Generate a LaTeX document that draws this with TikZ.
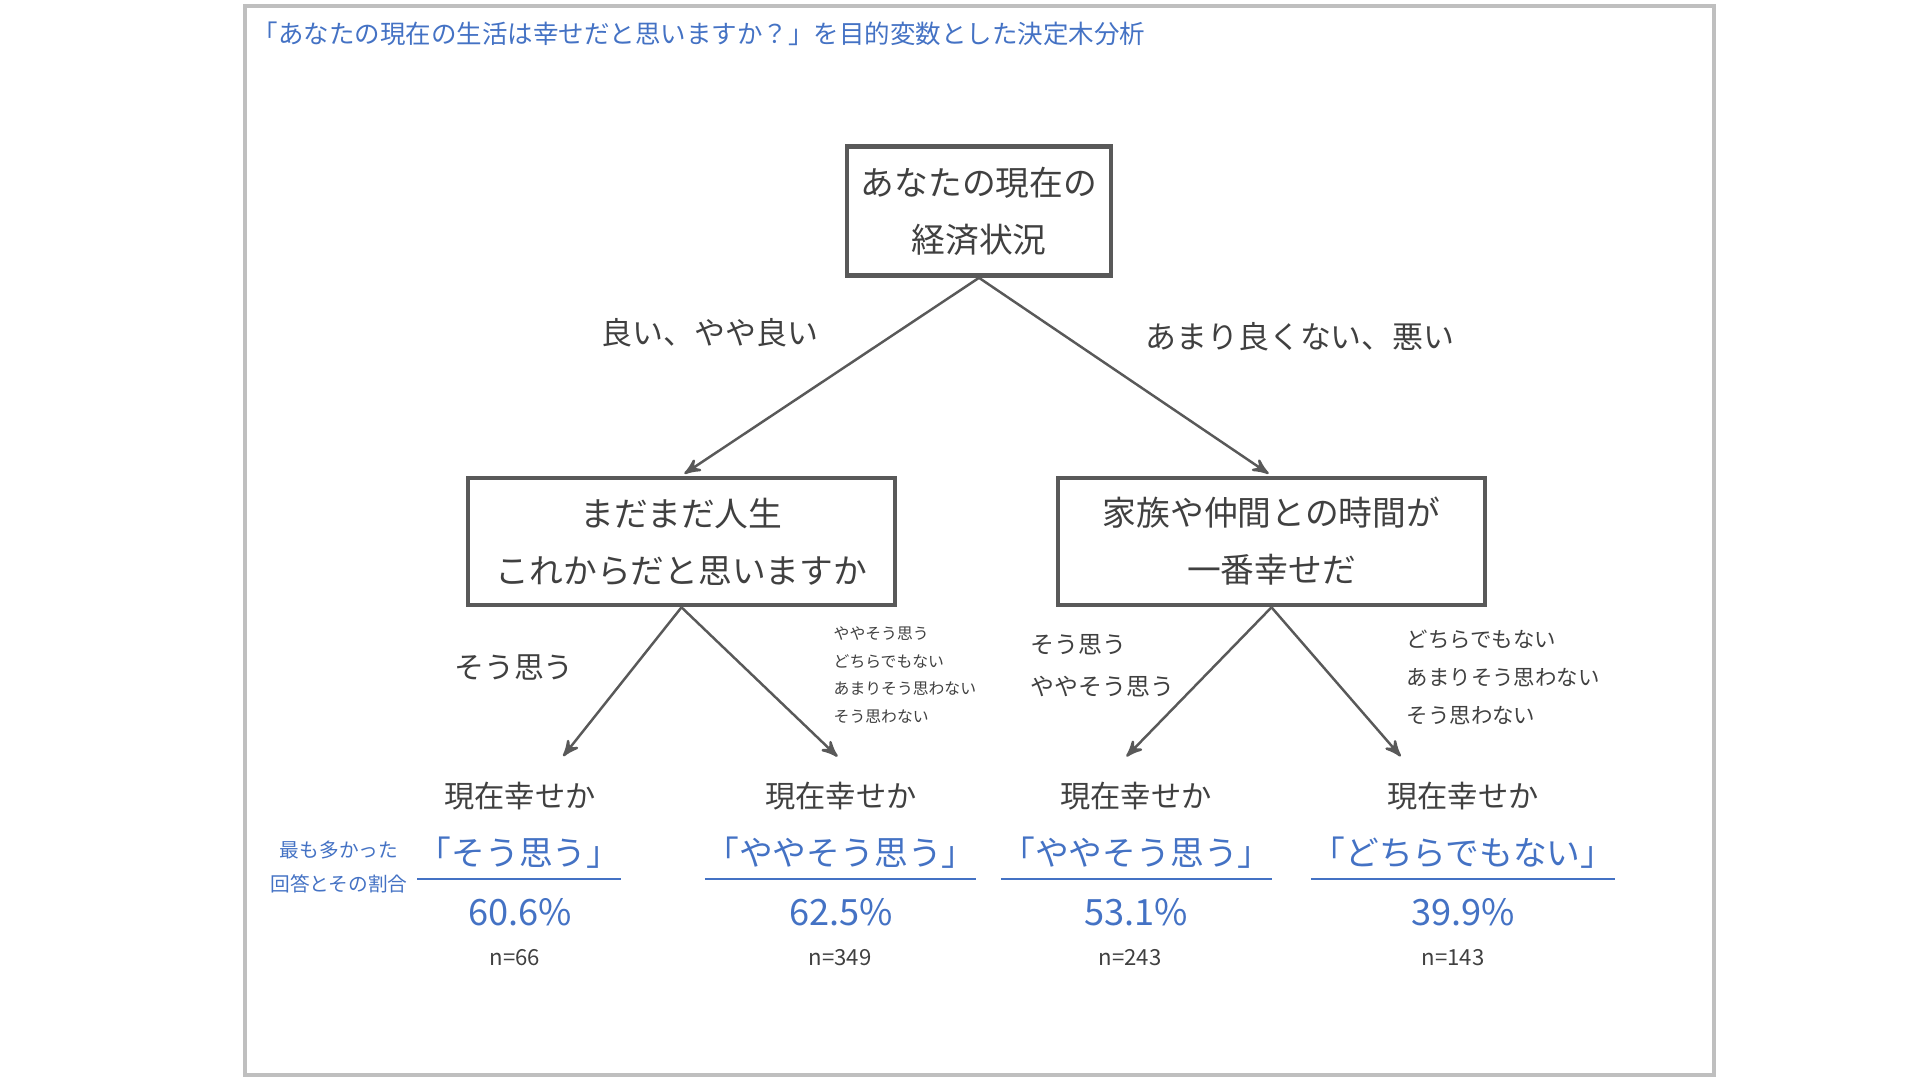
\documentclass[tikz,border=0pt]{standalone}
\usepackage{fontspec}
\setmainfont{Noto Sans CJK JP}
\usetikzlibrary{arrows,positioning,calc}
\definecolor{framegray}{HTML}{BFBFBF}
\definecolor{ink}{HTML}{404040}
\definecolor{boxline}{HTML}{595959}
\definecolor{answer}{HTML}{4472C4}

\begin{document}
\begin{tikzpicture}[x=0.01cm,y=-0.01cm,>=stealth',shorten >=1pt]
  \tikzstyle{question}=[draw=boxline,line width=1.3pt,text=ink,align=center,inner sep=0pt,font=\fontsize{9.6pt}{16.2pt}\selectfont]
  \tikzstyle{branch}=[->,draw=boxline,line width=0.7pt]
  \tikzstyle{edgelabel}=[text=ink,inner sep=0pt,font=\fontsize{8.8pt}{10pt}\selectfont]
  \tikzstyle{smalllabel}=[text=ink,inner sep=0pt,align=left,anchor=west]
  \tikzstyle{leafq}=[text=ink,inner sep=0pt,font=\fontsize{8.6pt}{10pt}\selectfont]
  \tikzstyle{leafa}=[text=answer,inner sep=0pt,font=\fontsize{9.6pt}{11pt}\selectfont]
  \tikzstyle{leafp}=[text=answer,inner sep=0pt,font=\fontsize{10.3pt}{12pt}\selectfont]
  \tikzstyle{leafn}=[text=ink,inner sep=0pt,font=\fontsize{6.3pt}{8pt}\selectfont]
  \tikzstyle{uline}=[-,draw=answer,line width=0.8pt,shorten >=0pt]

  \useasboundingbox (0,0) rectangle (1920,1080);
  \draw[framegray,line width=0.9pt] (245,6) rectangle (1714,1075);

  \node[anchor=west,text=answer,inner sep=0pt,font=\fontsize{7.25pt}{8pt}\selectfont] (title) at (252,34)
    {「あなたの現在の生活は幸せだと思いますか？」を目的変数とした決定木分析};

  % tree
  \node[question,minimum width=2.64cm,minimum height=1.29cm] (root) at (979,211) {あなたの現在の\\経済状況};
  \node[question,minimum width=4.27cm,minimum height=1.27cm] (lbox) at (681.5,541.5) {まだまだ人生\\これからだと思いますか};
  \node[question,minimum width=4.27cm,minimum height=1.27cm] (rbox) at (1271.5,541.5) {家族や仲間との時間が\\一番幸せだ};

  \node[edgelabel] (good) at (710,333) {良い、やや良い};
  \node[edgelabel] (bad) at (1300,337) {あまり良くない、悪い};
  \node[edgelabel,font=\fontsize{8.5pt}{10pt}\selectfont] (yes) at (514,667) {そう思う};
  \node[smalllabel,font=\fontsize{4.5pt}{7.9pt}\selectfont] (lrest) at (833,675) {ややそう思う\\どちらでもない\\あまりそう思わない\\そう思わない};
  \node[smalllabel,font=\fontsize{6.8pt}{11.9pt}\selectfont] (ryes) at (1030,666) {そう思う\\ややそう思う};
  \node[smalllabel,font=\fontsize{6.1pt}{10.8pt}\selectfont] (rrest) at (1406,677) {どちらでもない\\あまりそう思わない\\そう思わない};

  \coordinate (t1) at (561,759);
  \coordinate (t2) at (840,759);
  \coordinate (t3) at (1124,759);
  \coordinate (t4) at (1403,759);

  \path
  (root.south) edge[branch] (lbox.north)
  (root.south) edge[branch] (rbox.north)
  (lbox.south) edge[branch] (t1)
  (lbox.south) edge[branch] (t2)
  (rbox.south) edge[branch] (t3)
  (rbox.south) edge[branch] (t4);

  % leaves
  \node[leafq] (q1) at (520,796) {現在幸せか};
  \node[leafq] (q2) at (841,796) {現在幸せか};
  \node[leafq] (q3) at (1136,796) {現在幸せか};
  \node[leafq] (q4) at (1463,796) {現在幸せか};

  \node[leafa] (a1) at (519,853) {「そう思う」};
  \node[leafa] (a2) at (840.5,853) {「ややそう思う」};
  \node[leafa] (a3) at (1136.5,853) {「ややそう思う」};
  \node[leafa] (a4) at (1463,853) {「どちらでもない」};

  \draw[uline] ($(a1.west)+(0,26)$) -- ($(a1.east)+(0,26)$);
  \draw[uline] ($(a2.west)+(0,26)$) -- ($(a2.east)+(0,26)$);
  \draw[uline] ($(a3.west)+(0,26)$) -- ($(a3.east)+(0,26)$);
  \draw[uline] ($(a4.west)+(0,26)$) -- ($(a4.east)+(0,26)$);

  \node[leafp] (p1) at (520,912) {60.6\%};
  \node[leafp] (p2) at (841,912) {62.5\%};
  \node[leafp] (p3) at (1136,912) {53.1\%};
  \node[leafp] (p4) at (1463,912) {39.9\%};

  \node[leafn] (n1) at (515,958) {n=66};
  \node[leafn] (n2) at (840,958) {n=349};
  \node[leafn] (n3) at (1130,958) {n=243};
  \node[leafn] (n4) at (1453,958) {n=143};

  \node[text=answer,inner sep=0pt,align=center,font=\fontsize{5.6pt}{9.4pt}\selectfont] (note) at (339,867) {最も多かった\\回答とその割合};
\end{tikzpicture}
\end{document}
